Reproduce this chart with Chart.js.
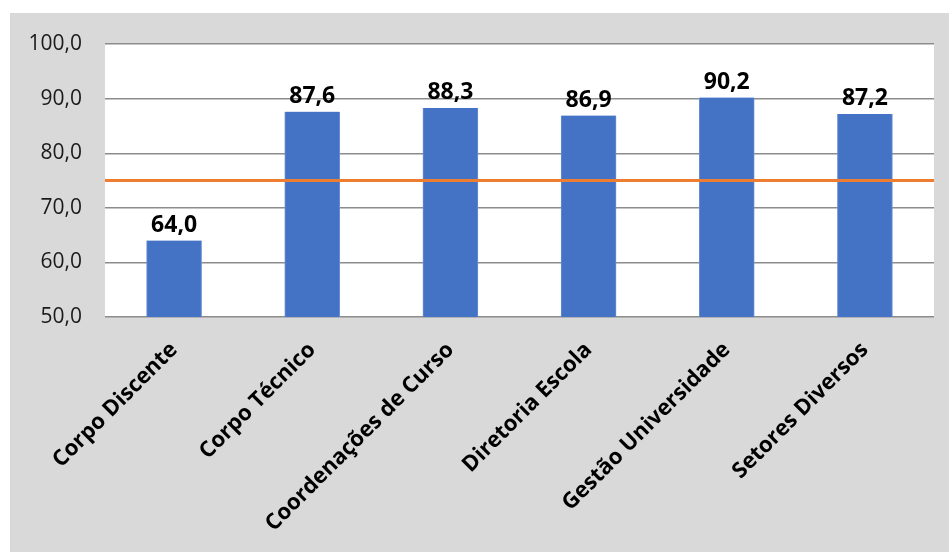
<!DOCTYPE html>
<html>
<head>
<meta charset="utf-8">
<script src="https://cdn.jsdelivr.net/npm/chart.js@4.4.0/dist/chart.umd.min.js"></script>
<style>
  body { margin: 0; background: #fff; }
  .chart-box { width: 949px; height: 552px; position: relative; }
</style>
</head>
<body>
<div class="chart-box">
  <canvas id="bar-chart"></canvas>
</div>
<script>
const categories = [
  "Corpo Discente",
  "Corpo Técnico",
  "Coordenações de Curso",
  "Diretoria Escola",
  "Gestão Universidade",
  "Setores Diversos"
];
const scores = [64.0, 87.6, 88.3, 86.9, 90.2, 87.2];
const targetLine = [75, 75, 75, 75, 75, 75];
const yTicks = [50, 60, 70, 80, 90, 100];

const FONT = "'Open Sans', 'Noto Sans', sans-serif";

function formatComma(value) {
  return Number(value).toFixed(1).replace('.', ',');
}

// gray panel behind everything, white plot area on top
const panelBackground = {
  id: 'panelBackground',
  beforeDraw(chart) {
    const ctx = chart.ctx;
    const area = chart.chartArea;
    ctx.save();
    ctx.fillStyle = '#d9d9d9';
    ctx.fillRect(10, 13, chart.width - 10, chart.height - 13);
    ctx.fillStyle = '#ffffff';
    ctx.fillRect(area.left, area.top, area.right - area.left, area.bottom - area.top);
    ctx.restore();
  }
};

// value above each bar
const barValues = {
  id: 'barValues',
  afterDatasetsDraw(chart) {
    const ctx = chart.ctx;
    const meta = chart.getDatasetMeta(0);
    ctx.save();
    ctx.font = "bold 23px " + FONT;
    ctx.fillStyle = '#000';
    ctx.textAlign = 'center';
    ctx.textBaseline = 'alphabetic';
    meta.data.forEach((bar, i) => {
      ctx.fillText(formatComma(scores[i]), bar.x, bar.y - 9);
    });
    ctx.restore();
  }
};

function initChart() {
  const ctx = document.getElementById("bar-chart");
  const config = {
    type: 'bar',
    data: {
      labels: categories,
      datasets: [{
        data: scores,
        backgroundColor: '#4472c4',
        borderColor: '#6a8fd2',
        borderWidth: { left: 1, right: 1, top: 0, bottom: 0 },
        barThickness: 55,
        grouped: false,
        order: 2
      }, {
        type: 'line',
        data: targetLine,
        xAxisID: 'xLine',
        borderColor: '#ed7d31',
        borderWidth: 3,
        pointRadius: 0,
        clip: 4,
        order: 1
      }]
    },
    options: {
      responsive: true,
      maintainAspectRatio: false,
      animation: false,
      layout: {
        padding: { top: 44, right: 15, left: 0, bottom: 0 }
      },
      plugins: {
        legend: { display: false },
        tooltip: { enabled: false }
      },
      scales: {
        x: {
          grid: { display: false },
          border: { display: false },
          ticks: {
            autoSkip: false,
            minRotation: 45,
            maxRotation: 45,
            padding: 12,
            color: '#000',
            font: { family: FONT, size: 22, weight: 'bold' }
          },
          afterFit(scale) { scale.height = 235; }
        },
        xLine: {
          type: 'category',
          labels: categories,
          offset: false,
          display: false
        },
        y: {
          min: 50,
          max: 100,
          afterBuildTicks(scale) {
            scale.ticks = yTicks.map(v => ({ value: v }));
          },
          grid: {
            color: '#8c8c8c',
            lineWidth: 1.4,
            drawTicks: false
          },
          border: { display: false },
          ticks: {
            padding: 23,
            color: '#1a1a1a',
            font: { family: FONT, size: 21 },
            callback: (value) => formatComma(value)
          },
          afterFit(scale) { scale.width = 105; }
        }
      }
    },
    plugins: [panelBackground, barValues]
  };
  return new Chart(ctx, config);
}

const barChart = initChart();
</script>
</body>
</html>
